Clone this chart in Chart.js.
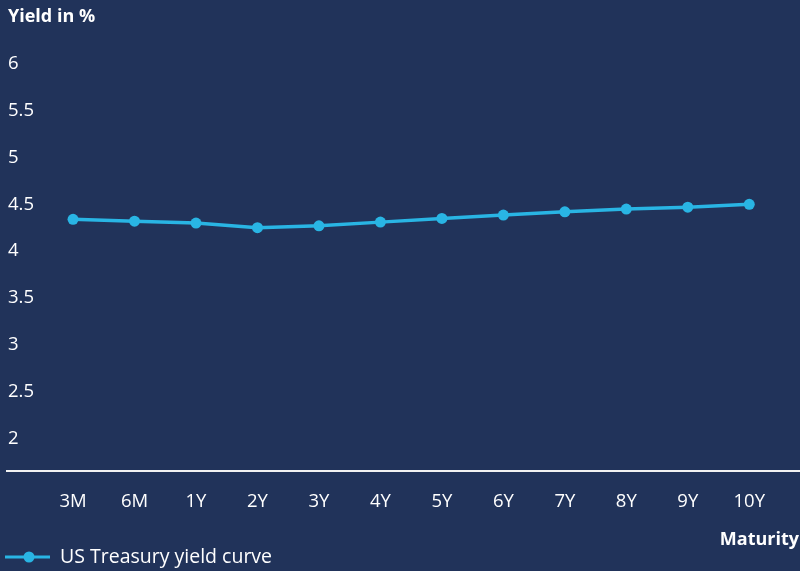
<!DOCTYPE html>
<html>
<head>
<meta charset="utf-8">
<script src="https://cdn.jsdelivr.net/npm/chart.js@4"></script>
<style>
  html, body { margin: 0; padding: 0; background: #21335a; }
  #wrap { width: 800px; height: 571px; }
</style>
</head>
<body>
<div id="wrap"><canvas id="c" width="800" height="571"></canvas></div>
<script>
const categories = ['3M', '6M', '1Y', '2Y', '3Y', '4Y', '5Y', '6Y', '7Y', '8Y', '9Y', '10Y'];
const yieldValues = [4.34, 4.32, 4.30, 4.25, 4.27, 4.31, 4.35, 4.385, 4.42, 4.45, 4.47, 4.50];
const yTickValues = [2, 2.5, 3, 3.5, 4, 4.5, 5, 5.5, 6];
const seriesName = 'US Treasury yield curve';
const yTitle = 'Yield in %';
const xTitle = 'Maturity';

const BG = '#21335a';
const LINE = '#29b5e4';
const TEXT = '#ffffff';
const FONT = "'Open Sans', 'DejaVu Sans', sans-serif";

const extras = {
  id: 'extras',
  afterDraw(chart) {
    const ctx = chart.ctx;
    const a = chart.chartArea;
    ctx.save();
    // x axis baseline, full width
    ctx.strokeStyle = '#f2f2f2';
    ctx.lineWidth = 2;
    ctx.beginPath();
    ctx.moveTo(6, a.bottom);
    ctx.lineTo(chart.width, a.bottom);
    ctx.stroke();
    // x axis title
    ctx.fillStyle = TEXT;
    ctx.font = "bold 18px " + FONT;
    ctx.textAlign = 'right';
    ctx.textBaseline = 'middle';
    ctx.fillText(xTitle, chart.width - 1, 540);
    // legend
    const ly = 557;
    ctx.strokeStyle = LINE;
    ctx.lineWidth = 3;
    ctx.beginPath();
    ctx.moveTo(5, ly);
    ctx.lineTo(50, ly);
    ctx.stroke();
    ctx.fillStyle = LINE;
    ctx.beginPath();
    ctx.arc(29, ly, 5.5, 0, Math.PI * 2);
    ctx.fill();
    ctx.fillStyle = TEXT;
    ctx.font = "19.5px " + FONT;
    ctx.textAlign = 'left';
    ctx.fillText(seriesName, 60, ly);
    ctx.restore();
  }
};

new Chart(document.getElementById('c'), {
  type: 'line',
  data: {
    labels: categories,
    datasets: [{
      label: seriesName,
      data: yieldValues,
      borderColor: LINE,
      backgroundColor: LINE,
      borderWidth: 3.5,
      pointRadius: 5.5,
      pointHoverRadius: 5.5,
      pointBackgroundColor: LINE,
      pointBorderWidth: 0,
      tension: 0
    }]
  },
  options: {
    responsive: false,
    animation: false,
    layout: { padding: { left: 8, right: 20, top: 0, bottom: 0 } },
    plugins: {
      legend: { display: false },
      tooltip: { enabled: false },
      title: {
        display: true,
        text: yTitle,
        align: 'start',
        color: TEXT,
        font: { family: FONT, size: 18, weight: 'bold' },
        padding: { top: 6, bottom: 36.4 }
      }
    },
    scales: {
      x: {
        offset: true,
        grid: { display: false, drawTicks: false },
        border: { display: false },
        ticks: { color: TEXT, font: { family: FONT, size: 18.5 }, padding: 20, maxRotation: 0, autoSkip: false },
        afterFit(scale) { scale.height = 100; }
      },
      y: {
        min: 1.65,
        max: 6,
        grid: { display: false, drawTicks: false },
        border: { display: false },
        ticks: {
          color: TEXT,
          font: { family: FONT, size: 18.5 },
          crossAlign: 'far',
          padding: 0,
          callback: (v) => String(v)
        },
        afterBuildTicks(scale) { scale.ticks = yTickValues.map(v => ({ value: v })); },
        afterFit(scale) { scale.width = 34.3; }
      }
    }
  },
  plugins: [extras]
});
</script>
</body>
</html>
